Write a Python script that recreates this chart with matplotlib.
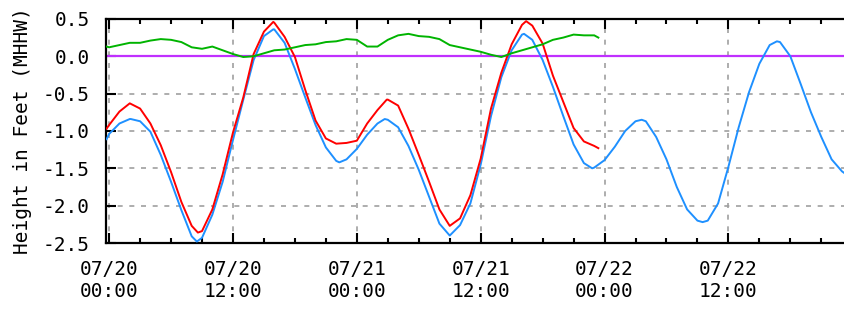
# Water level chart: predicted, observed, difference vs MHHW

import numpy as np
import matplotlib
matplotlib.use("Agg")
import matplotlib.pyplot as plt
from matplotlib.ticker import MultipleLocator

# hours since 07/20 00:00 (hourly readings plus the turning points)
pred_hours = [-0.25, 0, 1, 2, 2.1, 3, 4, 5, 6, 7, 8, 8.5, 9, 10, 11, 12, 13, 14, 15, 15.9, 16, 17, 18, 19, 20,
              21, 22, 22.3, 23, 24, 25, 26, 26.7, 27, 28, 29, 30, 31, 32, 33, 34, 35, 36, 37, 38, 39, 40,
              40.2, 41, 42, 43, 44, 45, 46, 46.8, 47, 48, 49, 50, 51, 51.6, 52, 53, 54, 55, 56, 57, 57.5,
              58, 59, 60, 61, 62, 63, 64, 64.7, 65, 66, 67, 68, 69, 70, 71, 71.2]
pred_ft = [-1.11, -1.04, -0.90, -0.84, -0.84, -0.87, -1.01, -1.32, -1.68, -2.06, -2.41, -2.48, -2.43, -2.12,
           -1.68, -1.12, -0.58, -0.05, 0.27, 0.36, 0.36, 0.18, -0.17, -0.55, -0.92,
           -1.22, -1.40, -1.42, -1.38, -1.24, -1.05, -0.90, -0.84, -0.85, -0.95, -1.20, -1.52, -1.88,
           -2.24, -2.40, -2.26, -1.97, -1.45, -0.80, -0.28, 0.08, 0.29,
           0.30, 0.22, -0.05, -0.41, -0.80, -1.18, -1.43, -1.50, -1.49, -1.39, -1.21, -1.00, -0.87, -0.85,
           -0.87, -1.08, -1.38, -1.75, -2.05, -2.20, -2.22,
           -2.20, -1.97, -1.48, -0.95, -0.48, -0.10, 0.15, 0.20, 0.19, 0.00, -0.37, -0.75, -1.08, -1.38,
           -1.54, -1.56]

obs_hours = [-0.25, 0, 1, 2, 3, 4, 5, 6, 7, 8, 8.6, 9, 10, 11, 12, 13, 14, 15, 15.9, 16, 17, 18, 19, 20,
             21, 22, 23, 24, 25, 26, 26.9, 27, 28, 29, 30, 31, 32, 33, 34, 35, 36, 37, 38, 39, 40, 40.4,
             41, 42, 43, 44, 45, 46, 47, 47.4]
obs_ft = [-0.97, -0.92, -0.74, -0.63, -0.70, -0.90, -1.19, -1.55, -1.95, -2.27, -2.36, -2.34, -2.05, -1.58,
          -1.02, -0.55, 0.03, 0.33, 0.46, 0.45, 0.26, -0.01, -0.45, -0.86,
          -1.10, -1.17, -1.16, -1.13, -0.90, -0.72, -0.58, -0.58, -0.66, -0.97, -1.32, -1.68, -2.05,
          -2.27, -2.17, -1.86, -1.37, -0.70, -0.22, 0.16, 0.42, 0.47,
          0.41, 0.17, -0.26, -0.61, -0.96, -1.14, -1.20, -1.23]

diff_hours = [-0.25] + list(range(0, 48)) + [47.4]
diff_ft = [0.13, 0.12, 0.15, 0.18, 0.18, 0.21, 0.23, 0.22, 0.19, 0.12, 0.10, 0.13, 0.08, 0.03,
           -0.01, 0.00, 0.04, 0.08, 0.09, 0.12, 0.15, 0.16, 0.19, 0.20, 0.23, 0.22, 0.13,
           0.13, 0.22, 0.28, 0.30, 0.27, 0.26, 0.23, 0.15, 0.12, 0.09, 0.06, 0.02,
           -0.01, 0.04, 0.08, 0.12, 0.16, 0.22, 0.25, 0.29, 0.28, 0.28, 0.25]

tick_hours = [0, 12, 24, 36, 48, 60]
tick_labels = ["07/20\n00:00", "07/20\n12:00", "07/21\n00:00",
               "07/21\n12:00", "07/22\n00:00", "07/22\n12:00"]

plt.rcParams['font.family'] = ['DejaVu Sans Mono']

fig = plt.figure(figsize=(8.44, 3.10), dpi=100)
ax = fig.add_axes([0.126, 0.216, 0.874, 0.723])

ax.plot(pred_hours, pred_ft, color="#1e90ff", lw=1.4, zorder=3)
ax.plot(obs_hours, obs_ft, color="#ff0000", lw=1.4, zorder=4)
ax.plot(diff_hours, diff_ft, color="#00b400", lw=1.4, zorder=4)
ax.axhline(0, color="#c030ff", lw=1.6, zorder=2)

ax.set_xlim(-0.27, 71.2)
ax.set_ylim(-2.5, 0.5)

ax.set_xticks(tick_hours)
ax.set_xticklabels(tick_labels, linespacing=1.25)
ax.xaxis.set_minor_locator(MultipleLocator(3))
ax.yaxis.set_major_locator(MultipleLocator(0.5))
ax.yaxis.set_major_formatter(plt.FuncFormatter(lambda v, p: "%.1f" % v))

ax.tick_params(axis="x", which="major", direction="in", length=7, width=1.5,
               top=True, labelsize=14, pad=12, colors="black")
ax.tick_params(axis="x", which="minor", direction="in", length=3.5, width=1.5, top=True)
ax.tick_params(axis="y", which="major", direction="in", length=7, width=1.5,
               right=False, labelsize=14, pad=12)

ax.grid(True, which="major", color="#a0a0a0", lw=1.2, linestyle=(0, (3, 4)))
ax.set_axisbelow(True)

for side in ["left", "top", "bottom"]:
    ax.spines[side].set_linewidth(1.6)
ax.spines["right"].set_visible(False)

ax.set_ylabel("Height in Feet (MHHW)", fontsize=14, labelpad=8)

fig.savefig("out.png", dpi=100)
